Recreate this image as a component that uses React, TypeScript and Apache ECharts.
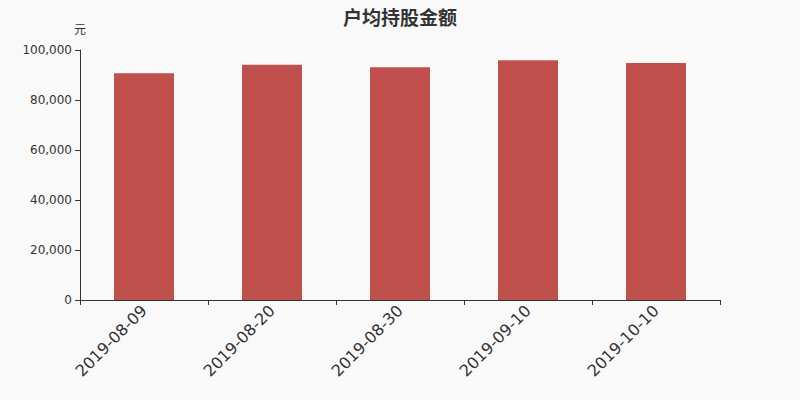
import React, { useRef, useEffect } from 'react';
import * as echarts from 'echarts';

const categories = ['2019-08-09', '2019-08-20', '2019-08-30', '2019-09-10', '2019-10-10'];
const values = [90680, 94130, 93070, 95870, 94800];

const App: React.FC = () => {
    const chartRef = useRef<HTMLDivElement>(null);

    useEffect(() => {
        document.body.style.margin = '0';
        if (!chartRef.current) return;
        const chart = echarts.init(chartRef.current, null, { renderer: 'svg' });

        const option: echarts.EChartsOption = {
            animation: false,
            backgroundColor: '#f9f9f9',
            textStyle: { fontFamily: 'DejaVu Sans' },
            title: {
                text: '户均持股金额',
                left: 'center',
                top: 2,
                textStyle: { fontSize: 19, fontWeight: 'bold', color: '#333', fontFamily: 'Noto Sans CJK SC' }
            },
            grid: { left: 80, right: 80, top: 50, bottom: 100 },
            xAxis: {
                type: 'category',
                data: categories,
                axisLine: { lineStyle: { color: '#333' } },
                axisTick: { show: true, alignWithLabel: false },
                axisLabel: { rotate: 45, fontSize: 16, color: '#333', margin: 8 }
            },
            yAxis: {
                type: 'value',
                name: '元',
                nameGap: 16,
                nameTextStyle: { color: '#333', fontSize: 12, align: 'center', fontFamily: 'Noto Sans CJK SC' },
                min: 0,
                max: 100000,
                interval: 20000,
                axisLine: { show: true, lineStyle: { color: '#333' } },
                axisTick: { show: true },
                splitLine: { show: false },
                axisLabel: {
                    color: '#333',
                    fontSize: 12,
                    formatter: (v: number) => v.toLocaleString('en-US')
                }
            },
            series: [
                {
                    type: 'bar',
                    data: values,
                    barWidth: 60,
                    itemStyle: { color: '#c0504d' }
                }
            ]
        };
        chart.setOption(option);

        return () => {
            chart.dispose();
        };
    }, []);

    return <div ref={chartRef} style={{ width: 800, height: 400 }} />;
};

export default App;
